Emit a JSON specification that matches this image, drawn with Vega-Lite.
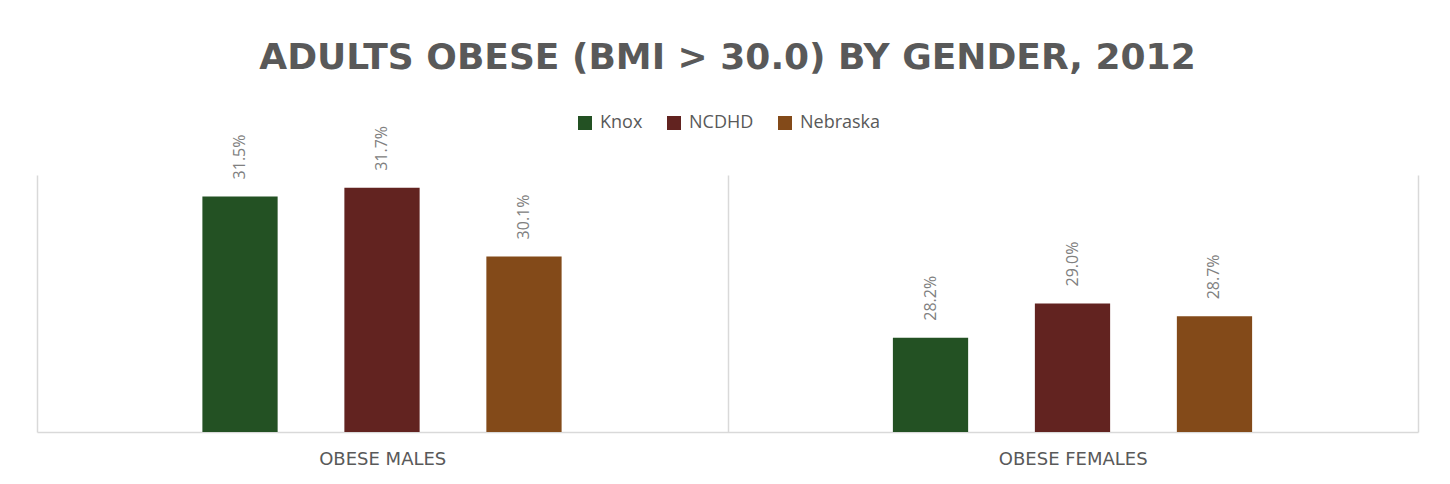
{
  "$schema": "https://vega.github.io/schema/vega-lite/v6.json",
  "width": 1381,
  "height": 257,
  "autosize": {"type": "none"},
  "padding": {"left": 37, "top": 175, "right": 32, "bottom": 52},
  "background": "white",
  "title": {
    "text": "ADULTS OBESE (BMI > 30.0) BY GENDER, 2012",
    "anchor": "middle",
    "frame": "group",
    "font": "DejaVu Sans",
    "fontSize": 36,
    "fontWeight": "bold",
    "color": "#595959",
    "baseline": "alphabetic",
    "offset": 9
  },
  "data": {
    "values": [
      {"group": "OBESE MALES", "area": "Knox", "value": 0.315},
      {"group": "OBESE MALES", "area": "NCDHD", "value": 0.317},
      {"group": "OBESE MALES", "area": "Nebraska", "value": 0.301},
      {"group": "OBESE FEMALES", "area": "Knox", "value": 0.282},
      {"group": "OBESE FEMALES", "area": "NCDHD", "value": 0.290},
      {"group": "OBESE FEMALES", "area": "Nebraska", "value": 0.287}
    ]
  },
  "encoding": {
    "x": {
      "field": "group",
      "type": "nominal",
      "sort": ["OBESE MALES", "OBESE FEMALES"],
      "scale": {"paddingInner": 0, "paddingOuter": 0},
      "axis": {
        "title": null,
        "labelAngle": 0,
        "labelFont": "DejaVu Sans",
        "labelFontSize": 18,
        "labelColor": "#595959",
        "labelPadding": 18,
        "ticks": false,
        "domainColor": "#d9d9d9",
        "domainWidth": 1.5,
        "grid": true,
        "tickBand": "extent",
        "gridColor": "#d9d9d9",
        "gridWidth": 1.5
      }
    },
    "xOffset": {
      "field": "area",
      "type": "nominal",
      "sort": ["Knox", "NCDHD", "Nebraska"],
      "scale": {"paddingInner": 0.47, "paddingOuter": 1, "range": [23.4, 666.6]}
    },
    "y": {
      "field": "value",
      "type": "quantitative",
      "scale": {"domain": [0.26, 0.32], "zero": false, "nice": false, "clamp": true},
      "axis": null
    }
  },
  "layer": [
    {
      "mark": {"type": "bar"},
      "encoding": {
        "color": {
          "field": "area",
          "type": "nominal",
          "sort": ["Knox", "NCDHD", "Nebraska"],
          "scale": {
            "domain": ["Knox", "NCDHD", "Nebraska"],
            "range": ["#235123", "#622320", "#834A19"]
          },
          "legend": {
            "title": null,
            "orient": "none",
            "direction": "horizontal",
            "legendX": 539,
            "legendY": -61,
            "symbolType": "square",
            "symbolSize": 196,
            "symbolStrokeWidth": 0,
            "labelFont": "Open Sans",
            "labelFontSize": 18,
            "labelColor": "#595959",
            "labelOffset": 6,
            "columnPadding": 22,
            "padding": 0
          }
        }
      }
    },
    {
      "mark": {
        "type": "text",
        "angle": 270,
        "align": "left",
        "baseline": "middle",
        "dx": 17,
        "font": "Open Sans",
        "fontSize": 16,
        "color": "#808080"
      },
      "encoding": {
        "text": {"field": "value", "type": "quantitative", "format": ".1%"}
      }
    }
  ],
  "config": {
    "view": {"stroke": null}
  }
}
